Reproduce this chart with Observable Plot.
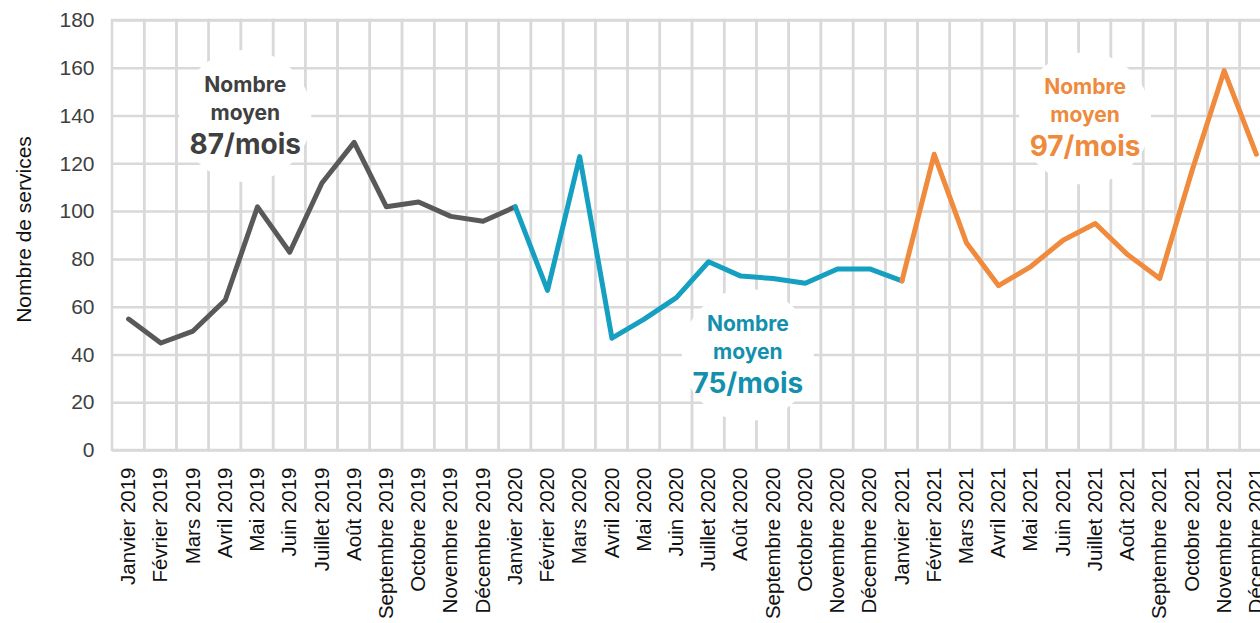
<!DOCTYPE html>
<html>
<head>
<meta charset="utf-8">
<script src="https://cdn.jsdelivr.net/npm/d3@7"></script>
<script src="https://cdn.jsdelivr.net/npm/@observablehq/plot@0.6"></script>
<style>
  html, body { margin: 0; padding: 0; background: #fff; overflow: hidden; width: 1260px; height: 623px; }
  #chart { width: 1260px; height: 623px; overflow: hidden; }
  #chart svg { max-width: none !important; }
</style>
</head>
<body>
<div id="chart"></div>
<script>
// ---- data ----
const months = [
  "Janvier 2019","Février 2019","Mars 2019","Avril 2019","Mai 2019","Juin 2019",
  "Juillet 2019","Août 2019","Septembre 2019","Octobre 2019","Novembre 2019","Décembre 2019",
  "Janvier 2020","Février 2020","Mars 2020","Avril 2020","Mai 2020","Juin 2020",
  "Juillet 2020","Août 2020","Septembre 2020","Octobre 2020","Novembre 2020","Décembre 2020",
  "Janvier 2021","Février 2021","Mars 2021","Avril 2021","Mai 2021","Juin 2021",
  "Juillet 2021","Août 2021","Septembre 2021","Octobre 2021","Novembre 2021","Décembre 2021"
];
const values2019 = [55, 45, 50, 63, 102, 83, 112, 129, 102, 104, 98, 96];
const values2020 = [102, 67, 123, 47, 55, 64, 79, 73, 72, 70, 76, 76];
const values2021 = [71, 124, 87, 69, 77, 88, 95, 82, 72, 117, 159, 124];
const yTicks = [0, 20, 40, 60, 80, 100, 120, 140, 160, 180];
const annotations = [
  {month: "Avril 2019", value: 140, line1: "Nombre", line2: "moyen", line3: "87/mois", color: "#404040"},
  {month: "Août 2020", value: 40, line1: "Nombre", line2: "moyen", line3: "75/mois", color: "#1390ad"},
  {month: "Juin 2021", value: 139, line1: "Nombre", line2: "moyen", line3: "97/mois", color: "#ef8a3c"}
];
const yLabel = "Nombre de services";

// ---- build tables ----
const allValues = [...values2019, ...values2020, ...values2021];
const rows = months.map((m, i) => ({month: m, value: allValues[i]}));
const seg2019 = rows.slice(0, 13);
const seg2020 = rows.slice(12, 25);
const seg2021 = rows.slice(24, 36);
const annDx = [20, 7, 22];
const annos = annotations.map((a, i) => ({...a, dx: annDx[i]}));

const gridColor = "#d9d9d9";
const annFont = "Inter, 'Open Sans', sans-serif";

const marks = [
  Plot.cell(months, {x: d => d, fill: "none", stroke: gridColor, strokeWidth: 2.5, inset: 0}),
  Plot.ruleY(yTicks, {stroke: gridColor, strokeWidth: 2.5}),
  Plot.axisY({ticks: yTicks, tickSize: 0, tickPadding: 18, fontSize: 21, label: null, fill: "#404040"}),
  Plot.axisX({tickRotate: -90, tickSize: 0, tickPadding: 17, fontSize: 20.5, label: null, fill: "#111"}),
  Plot.text([yLabel], {frameAnchor: "left", dx: -88, dy: -6, rotate: -90, textAnchor: "middle", fontSize: 21, fill: "#111", text: d => d}),
];
annos.forEach(a => {
  marks.push(Plot.dot([a], {x: "month", y: "value", dx: a.dx, r: 66, fill: "white", stroke: "none"}));
});
marks.push(
  Plot.line(seg2019, {x: "month", y: "value", stroke: "#595959", strokeWidth: 5}),
  Plot.line(seg2020, {x: "month", y: "value", stroke: "#159fc1", strokeWidth: 5}),
  Plot.line(seg2021, {x: "month", y: "value", stroke: "#f08a3c", strokeWidth: 5})
);
annos.forEach(a => {
  marks.push(
    Plot.text([a], {x: "month", y: "value", dx: a.dx, dy: -31, text: "line1", fill: a.color, fontSize: 21, fontWeight: 700, fontFamily: annFont}),
    Plot.text([a], {x: "month", y: "value", dx: a.dx, dy: -3, text: "line2", fill: a.color, fontSize: 21, fontWeight: 700, fontFamily: annFont}),
    Plot.text([a], {x: "month", y: "value", dx: a.dx, dy: 29, text: "line3", fill: a.color, fontSize: 28, fontWeight: 700, fontFamily: annFont})
  );
});

const chart = Plot.plot({
  width: 1280,
  height: 623,
  marginLeft: 112,
  marginRight: 8,
  marginTop: 20,
  marginBottom: 173,
  style: {fontFamily: "'Liberation Sans', Arial, sans-serif", background: "white"},
  x: {type: "band", domain: months, padding: 0, round: false},
  y: {domain: [0, 180]},
  marks
});
document.getElementById("chart").appendChild(chart);
</script>
</body>
</html>
